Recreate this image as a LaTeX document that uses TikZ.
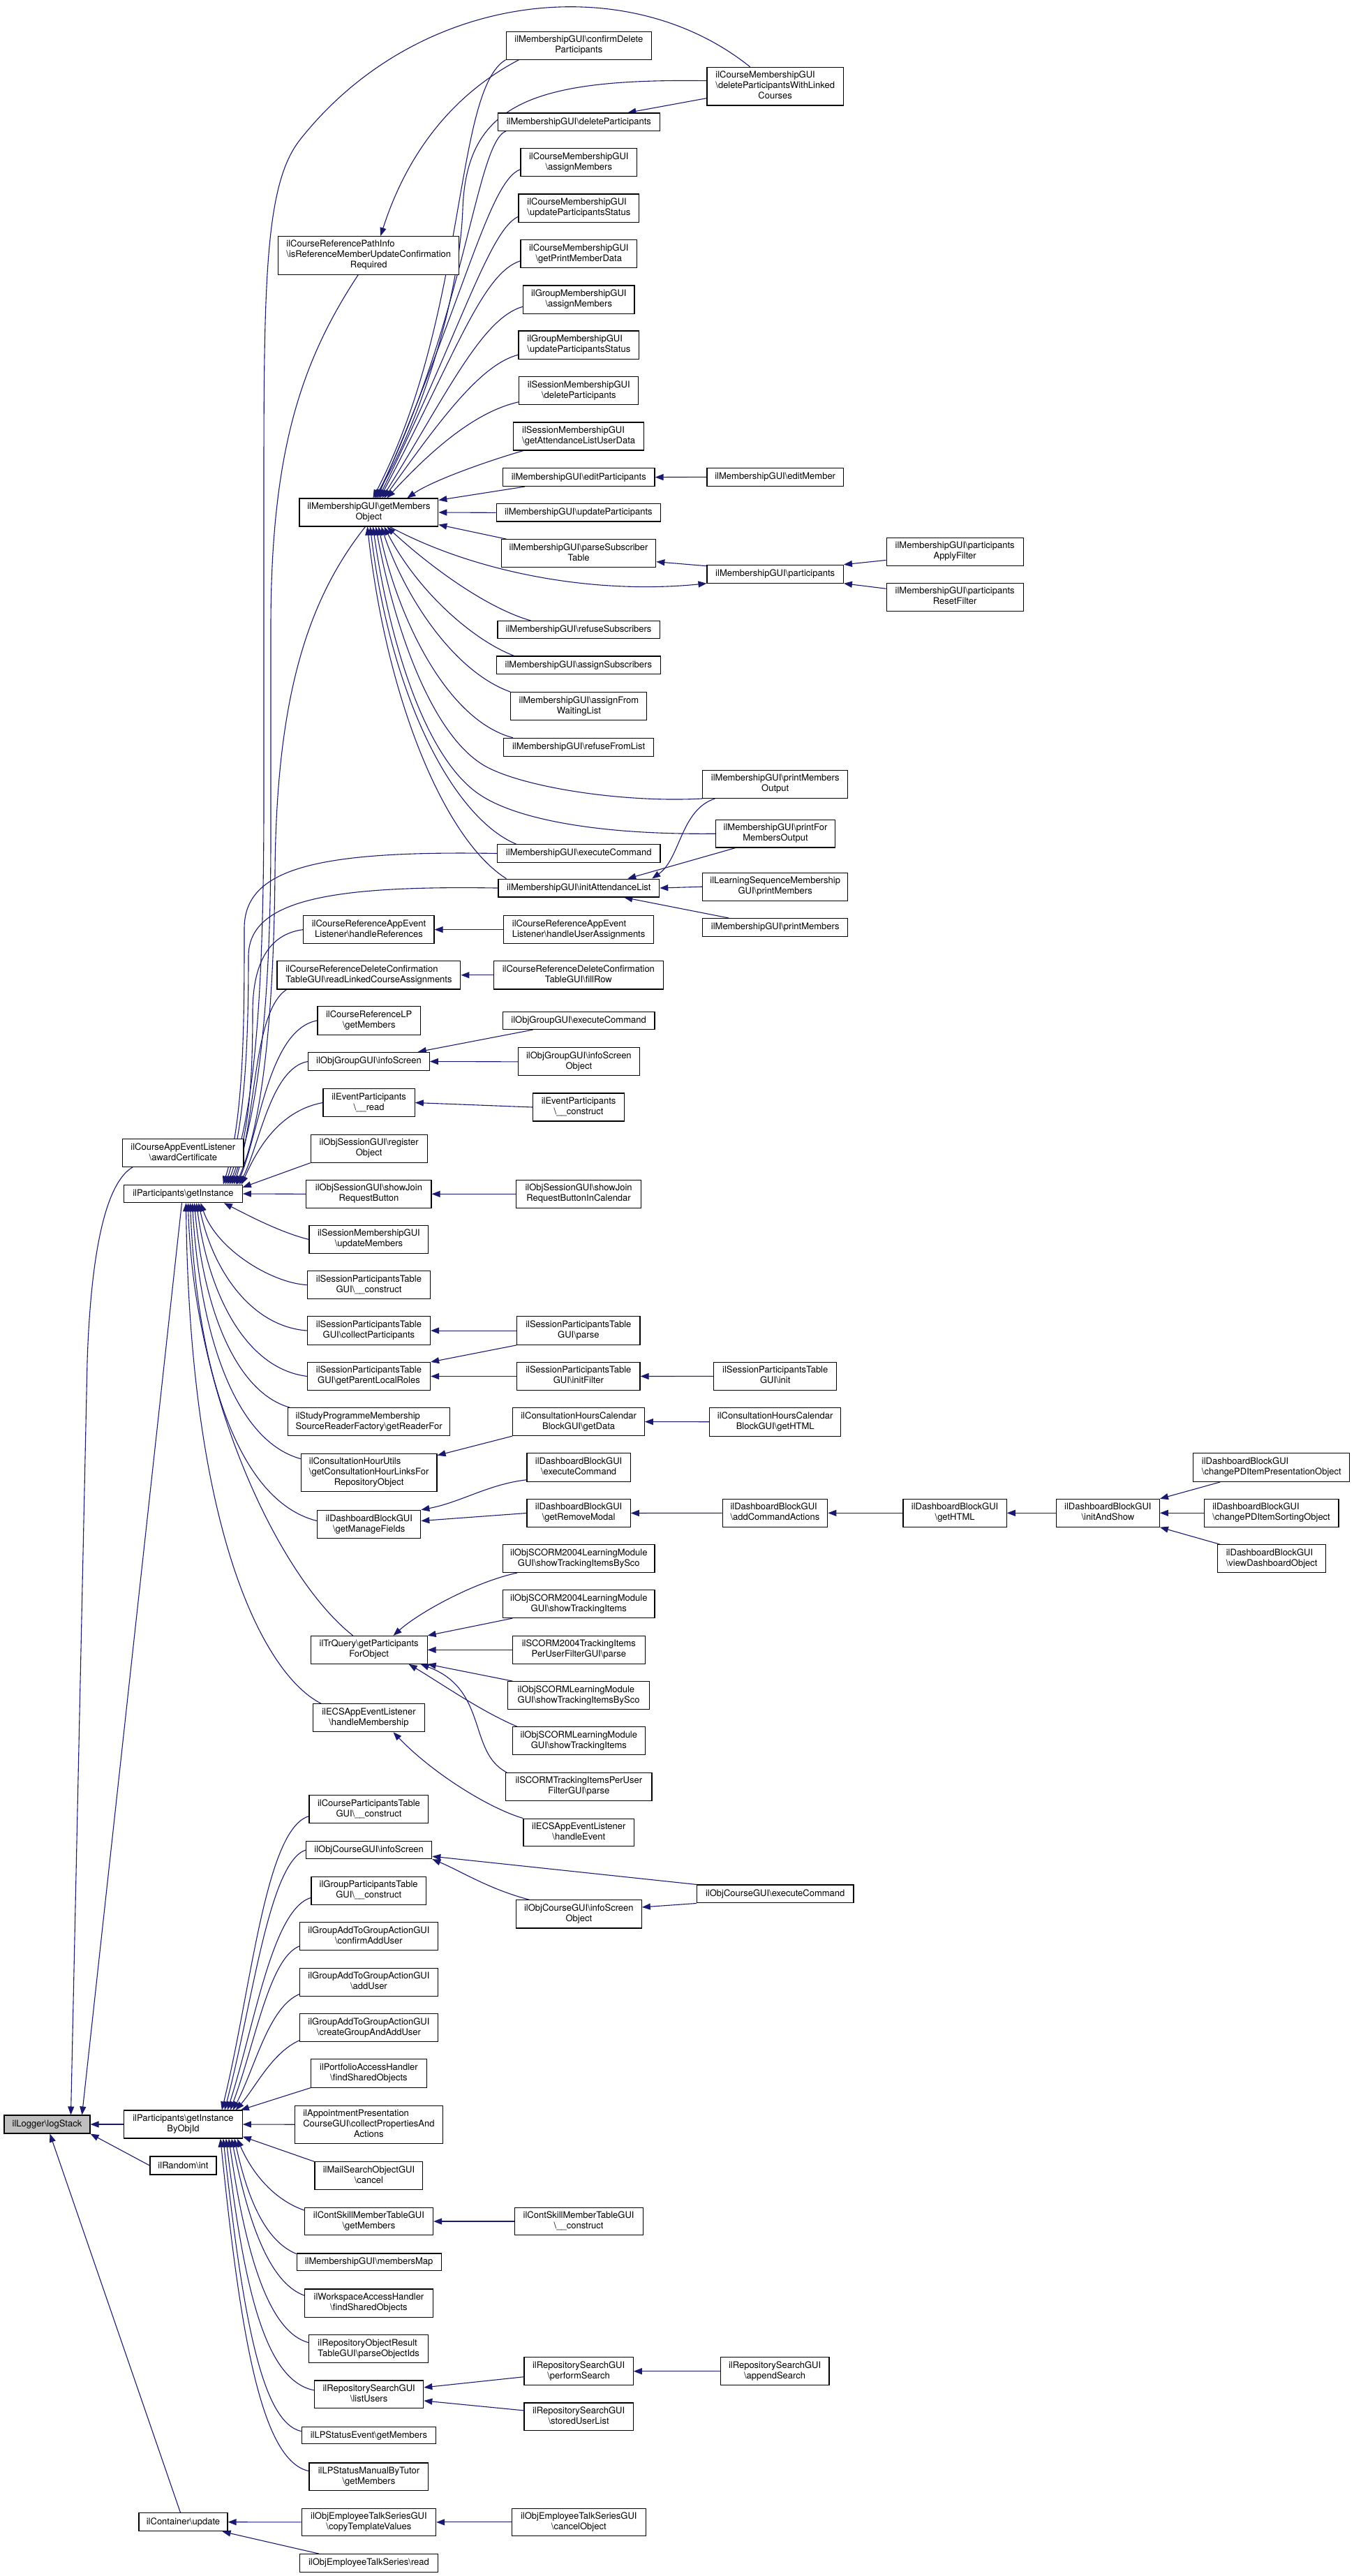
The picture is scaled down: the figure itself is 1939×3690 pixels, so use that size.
\documentclass[tikz,border=0pt]{standalone}
\usepackage{fontspec}
\setmainfont{TeX Gyre Heros}
\usetikzlibrary{arrows.meta}
\pgfdeclarelayer{background}
\pgfsetlayers{background,main}
\definecolor{edgec}{HTML}{191970}
\definecolor{rootc}{HTML}{BFBFBF}
\newcommand\bsl{\textbackslash}
\newcommand\twoL[2]{\begin{tabular}{@{}l@{}}#1\\\multicolumn{1}{@{}c@{}}{#2}\end{tabular}}
\newcommand\threeL[3]{\begin{tabular}{@{}l@{}}#1\\#2\\\multicolumn{1}{@{}c@{}}{#3}\end{tabular}}
\newcommand\bx[6][]{\node[nbox,#1,minimum width={#5-#3},minimum height={#6-#4}] (#2) at ({(#3+#5)/2},{(#4+#6)/2})}
\tikzset{
  nbox/.style={draw=black, line width=1.1pt, fill=white, inner sep=0pt, font=\fontsize{13}{15}\selectfont, text=black},
  edge/.style={draw=edgec, line width=1.1pt, -{Triangle[length=12pt,width=9pt]}}
}
\begin{document}
\begin{tikzpicture}[x=1pt,y=-1pt]
\useasboundingbox (0,0) rectangle (1939,3690);
% ---------- column 2
\bx[fill=rootc]{ls}{6}{3030}{129}{3056}{ilLogger\bsl logStack};
\bx{ace}{175.7}{1631.7}{349}{1671.3}{\twoL{ilCourseAppEventListener}{\bsl awardCertificate}};
\bx{gi}{177.7}{1697.3}{347.3}{1722.7}{ilParticipants\bsl getInstance};
\bx{gib}{177.7}{3023}{347.3}{3063}{\twoL{ilParticipants\bsl getInstance}{ByObjId}};
\bx{rnd}{215}{3089}{310}{3115}{ilRandom\bsl int};
\bx{cu}{199}{3599.7}{326}{3625.7}{ilContainer\bsl update};
% ---------- column 3
\bx{iref}{398.8}{338.6}{657.7}{393.1}{\threeL{ilCourseReferencePathInfo}{\bsl isReferenceMemberUpdateConfirmation}{Required}};
\bx{gmo}{429}{714}{627.8}{754}{\twoL{ilMembershipGUI\bsl getMembers}{Object}};
\bx{hr}{434.9}{1311.4}{622}{1351.8}{\twoL{ilCourseReferenceAppEvent}{Listener\bsl handleReferences}};
\bx{rlca}{397}{1376.5}{659.9}{1417}{\twoL{ilCourseReferenceDeleteConfirmation}{TableGUI\bsl readLinkedCourseAssignments}};
\bx{crlp}{455}{1441.6}{602.3}{1482.1}{\twoL{ilCourseReferenceLP}{\bsl getMembers}};
\bx{ogis}{441.6}{1507.3}{615.3}{1533.7}{ilObjGroupGUI\bsl infoScreen};
\bx{epr}{463}{1559.5}{594.3}{1599.5}{\twoL{ilEventParticipants}{\bsl\_\_read}};
\bx{sro}{445.2}{1625.3}{612.1}{1665.2}{\twoL{ilObjSessionGUI\bsl register}{Object}};
\bx{sjrb}{438.9}{1690.4}{618}{1730.3}{\twoL{ilObjSessionGUI\bsl showJoin}{RequestButton}};
\bx{smum}{443}{1755.5}{613.9}{1795.4}{\twoL{ilSessionMembershipGUI}{\bsl updateMembers}};
\bx{sptc}{440.3}{1820.6}{616.6}{1860.5}{\twoL{ilSessionParticipantsTable}{GUI\bsl\_\_construct}};
\bx{sptcp}{440.3}{1885.8}{616.6}{1926.3}{\twoL{ilSessionParticipantsTable}{GUI\bsl collectParticipants}};
\bx{sptplr}{440.3}{1951.5}{616.6}{1991.4}{\twoL{ilSessionParticipantsTable}{GUI\bsl getParentLocalRoles}};
\bx{sprf}{412.6}{2016.6}{644.7}{2056.5}{\twoL{ilStudyProgrammeMembership}{SourceReaderFactory\bsl getReaderFor}};
\bx{chu}{431.3}{2082.3}{626}{2136.9}{\threeL{ilConsultationHourUtils}{\bsl getConsultationHourLinksFor}{RepositoryObject}};
\bx{dbmf}{454.6}{2163.3}{602.8}{2203.8}{\twoL{ilDashboardBlockGUI}{\bsl getManageFields}};
\bx{trq}{445.2}{2343.4}{612.1}{2383.3}{\twoL{ilTrQuery\bsl getParticipants}{ForObject}};
\bx{ecshm}{448.8}{2440.8}{608.1}{2480.7}{\twoL{ilECSAppEventListener}{\bsl handleMembership}};
\bx{cpt}{443}{2571.7}{613.9}{2611.6}{\twoL{ilCourseParticipantsTable}{GUI\bsl\_\_construct}};
\bx{ocis}{438.5}{2637.4}{618.8}{2662.6}{ilObjCourseGUI\bsl infoScreen};
\bx{gpt}{446}{2688.4}{610.4}{2728.3}{\twoL{ilGroupParticipantsTable}{GUI\bsl\_\_construct}};
\bx{gaca}{429.6}{2753.6}{627.3}{2793.8}{\twoL{ilGroupAddToGroupActionGUI}{\bsl confirmAddUser}};
\bx{gaau}{429.6}{2819.3}{627.3}{2859.6}{\twoL{ilGroupAddToGroupActionGUI}{\bsl addUser}};
\bx{gacg}{429.6}{2884.6}{627.3}{2924.9}{\twoL{ilGroupAddToGroupActionGUI}{\bsl createGroupAndAddUser}};
\bx{pah}{445.6}{2949.8}{611.3}{2990.1}{\twoL{ilPortfolioAccessHandler}{\bsl findSharedObjects}};
\bx{apc}{422.4}{3016.2}{634.5}{3070.2}{\threeL{ilAppointmentPresentation}{CourseGUI\bsl collectPropertiesAnd}{Actions}};
\bx{mso}{451}{3096.9}{605.9}{3136.6}{\twoL{ilMailSearchObjectGUI}{\bsl cancel}};
\bx{csmg}{436.3}{3162.1}{620.6}{3201.9}{\twoL{ilContSkillMemberTableGUI}{\bsl getMembers}};
\bx{mgmm}{425.1}{3228}{632.2}{3252.9}{ilMembershipGUI\bsl membersMap};
\bx{wah}{436.7}{3279}{620.2}{3319.3}{\twoL{ilWorkspaceAccessHandler}{\bsl findSharedObjects}};
\bx{rort}{442.5}{3344.8}{613.9}{3384.5}{\twoL{ilRepositoryObjectResult}{TableGUI\bsl parseObjectIds}};
\bx{rslu}{450.5}{3410}{606.8}{3449.8}{\twoL{ilRepositorySearchGUI}{\bsl listUsers}};
\bx{lpse}{432.2}{3476.5}{624.6}{3500.8}{ilLPStatusEvent\bsl getMembers};
\bx{lpsm}{443}{3528}{613.9}{3567.2}{\twoL{ilLPStatusManualByTutor}{\bsl getMembers}};
\bx{etctv}{432.2}{3593.3}{624.6}{3632.5}{\twoL{ilObjEmployeeTalkSeriesGUI}{\bsl copyTemplateValues}};
\bx{etsr}{429.6}{3658.6}{627.3}{3684.1}{ilObjEmployeeTalkSeries\bsl read};
% ---------- column 4
\bx{cd}{725.1}{45.2}{933.6}{85.1}{\twoL{ilMembershipGUI\bsl confirmDelete}{Participants}};
\bx{dp}{713.5}{162}{945.2}{187.2}{ilMembershipGUI\bsl deleteParticipants};
\bx{cma}{746}{212.4}{912.6}{252.9}{\twoL{ilCourseMembershipGUI}{\bsl assignMembers}};
\bx{cmu}{743}{278}{915.7}{318.6}{\twoL{ilCourseMembershipGUI}{\bsl updateParticipantsStatus}};
\bx{cmp}{746}{343.8}{912.6}{383.7}{\twoL{ilCourseMembershipGUI}{\bsl getPrintMemberData}};
\bx{gma}{749.6}{409}{909}{449.5}{\twoL{ilGroupMembershipGUI}{\bsl assignMembers}};
\bx{gmu}{743}{474}{915.7}{514.6}{\twoL{ilGroupMembershipGUI}{\bsl updateParticipantsStatus}};
\bx{smd}{743.8}{539.8}{914.8}{579.7}{\twoL{ilSessionMembershipGUI}{\bsl deleteParticipants}};
\bx{sma}{735.4}{605}{922.9}{645}{\twoL{ilSessionMembershipGUI}{\bsl getAttendanceListUserData}};
\bx{ep}{720.6}{670.7}{938}{696.5}{ilMembershipGUI\bsl editParticipants};
\bx{up}{711.2}{721.7}{946.5}{747}{ilMembershipGUI\bsl updateParticipants};
\bx{pst}{718.4}{772.8}{939.8}{812.6}{\twoL{ilMembershipGUI\bsl parseSubscriber}{Table}};
\bx{rs}{713}{889.5}{945.2}{914.7}{ilMembershipGUI\bsl refuseSubscribers};
\bx{as}{711.2}{940}{946.5}{965.2}{ilMembershipGUI\bsl assignSubscribers};
\bx{afw}{731.8}{991.6}{926.9}{1031.5}{\twoL{ilMembershipGUI\bsl assignFrom}{WaitingList}};
\bx{rfl}{721.5}{1057.3}{936.7}{1083.1}{ilMembershipGUI\bsl refuseFromList};
\bx{ec}{712.6}{1209.9}{946}{1235.1}{ilMembershipGUI\bsl executeCommand};
\bx{ial}{714}{1259.1}{944.7}{1285}{ilMembershipGUI\bsl initAttendanceList};
\bx{hua}{721.5}{1311.4}{936.7}{1351.8}{\twoL{ilCourseReferenceAppEvent}{Listener\bsl handleUserAssignments}};
\bx{fr}{707.2}{1376.5}{950.5}{1417}{\twoL{ilCourseReferenceDeleteConfirmation}{TableGUI\bsl fillRow}};
\bx{ogec}{720.2}{1449.8}{938}{1474.5}{ilObjGroupGUI\bsl executeCommand};
\bx{ogiso}{742.5}{1500.9}{916.2}{1540.8}{\twoL{ilObjGroupGUI\bsl infoScreen}{Object}};
\bx{epc}{763.5}{1566}{894.7}{1606}{\twoL{ilEventParticipants}{\bsl\_\_construct}};
\bx{sjrbc}{739.4}{1690.4}{918.8}{1730.3}{\twoL{ilObjSessionGUI\bsl showJoin}{RequestButtonInCalendar}};
\bx{sptp}{740.7}{1885.8}{917}{1926.3}{\twoL{ilSessionParticipantsTable}{GUI\bsl parse}};
\bx{sptif}{740.7}{1951.5}{917}{1991.4}{\twoL{ilSessionParticipantsTable}{GUI\bsl initFilter}};
\bx{chd}{734.9}{2016.6}{923.3}{2056.5}{\twoL{ilConsultationHoursCalendar}{BlockGUI\bsl getData}};
\bx{dbec}{755}{2081.7}{903.2}{2122.2}{\twoL{ilDashboardBlockGUI}{\bsl executeCommand}};
\bx{dbrm}{755}{2147.5}{903.2}{2187.4}{\twoL{ilDashboardBlockGUI}{\bsl getRemoveModal}};
\bx{s4bs}{720.6}{2212.6}{938}{2252.5}{\twoL{ilObjSCORM2004LearningModule}{GUI\bsl showTrackingItemsBySco}};
\bx{s4ti}{720.6}{2277.7}{938}{2317.6}{\twoL{ilObjSCORM2004LearningModule}{GUI\bsl showTrackingItems}};
\bx{s4p}{734.5}{2343.4}{924.2}{2383.3}{\twoL{ilSCORM2004TrackingItems}{PerUserFilterGUI\bsl parse}};
\bx{slbs}{727.8}{2408.6}{930.4}{2448.5}{\twoL{ilObjSCORMLearningModule}{GUI\bsl showTrackingItemsBySco}};
\bx{slti}{734.5}{2473.7}{924.2}{2513.6}{\twoL{ilObjSCORMLearningModule}{GUI\bsl showTrackingItems}};
\bx{sp}{724.6}{2539.4}{934}{2579.3}{\twoL{ilSCORMTrackingItemsPerUser}{FilterGUI\bsl parse}};
\bx{ecshe}{750}{2605.1}{908.6}{2644.4}{\twoL{ilECSAppEventListener}{\bsl handleEvent}};
\bx{ocisobj}{739.4}{2721.9}{919.3}{2762}{\twoL{ilObjCourseGUI\bsl infoScreen}{Object}};
\bx{csmc}{737.1}{3162.1}{921.1}{3201.9}{\twoL{ilContSkillMemberTableGUI}{\bsl\_\_construct}};
\bx{rsps}{751}{3376.8}{907.2}{3416.6}{\twoL{ilRepositorySearchGUI}{\bsl performSearch}};
\bx{rssu}{751}{3442}{907.2}{3481.8}{\twoL{ilRepositorySearchGUI}{\bsl storedUserList}};
\bx{etco}{733.1}{3593.3}{925.5}{3632.5}{\twoL{ilObjEmployeeTalkSeriesGUI}{\bsl cancelObject}};
% ---------- column 5
\bx{dpwlc}{1013}{96.4}{1208.4}{151}{\threeL{ilCourseMembershipGUI}{\bsl deleteParticipantsWithLinked}{Courses}};
\bx{em}{1013}{670.4}{1208.4}{696.3}{ilMembershipGUI\bsl editMember};
\bx{pa}{1013}{809.3}{1208.4}{835.2}{ilMembershipGUI\bsl participants};
\bx{pmo}{1006.9}{1103.2}{1214.5}{1143.4}{\twoL{ilMembershipGUI\bsl printMembers}{Output}};
\bx{pfmo}{1025.3}{1174.4}{1196.7}{1214}{\twoL{ilMembershipGUI\bsl printFor}{MembersOutput}};
\bx{lsp}{1006.9}{1250.1}{1214.5}{1290.3}{\twoL{ilLearningSequenceMembership}{GUI\bsl printMembers}};
\bx{mpm}{1006.9}{1315.6}{1214.5}{1341.4}{ilMembershipGUI\bsl printMembers};
\bx{spti}{1022.9}{1951.5}{1198.6}{1991.3}{\twoL{ilSessionParticipantsTable}{GUI\bsl init}};
\bx{chh}{1016.7}{2016.3}{1204.7}{2057.1}{\twoL{ilConsultationHoursCalendar}{BlockGUI\bsl getHTML}};
\bx{dbac}{1035.1}{2147.4}{1185.7}{2187.2}{\twoL{ilDashboardBlockGUI}{\bsl addCommandActions}};
\bx{ocec}{998.4}{2700}{1223}{2725.9}{ilObjCourseGUI\bsl executeCommand};
\bx{rsas}{1032.2}{3376.8}{1188}{3416.6}{\twoL{ilRepositorySearchGUI}{\bsl appendSearch}};
% ---------- columns 6-8
\bx{paf}{1270.2}{770.3}{1466.1}{810.5}{\twoL{ilMembershipGUI\bsl participants}{ApplyFilter}};
\bx{prf}{1270.2}{835.2}{1466.1}{875.3}{\twoL{ilMembershipGUI\bsl participants}{ResetFilter}};
\bx{dbh}{1294}{2147.4}{1442.2}{2187.2}{\twoL{ilDashboardBlockGUI}{\bsl getHTML}};
\bx{dbis}{1513.3}{2147.4}{1661.4}{2187.2}{\twoL{ilDashboardBlockGUI}{\bsl initAndShow}};
\bx{dbpp}{1709.8}{2081.6}{1933.9}{2122.4}{\twoL{ilDashboardBlockGUI}{\bsl changePDItemPresentationObject}};
\bx{dbps}{1725.1}{2147.4}{1918}{2187.2}{\twoL{ilDashboardBlockGUI}{\bsl changePDItemSortingObject}};
\bx{dbvd}{1744.7}{2212.8}{1899.6}{2252.6}{\twoL{ilDashboardBlockGUI}{\bsl viewDashboardObject}};

\begin{pgfonlayer}{background}
% ---- to logStack
\draw[edge] ([xshift=15]ace.south west) .. controls (150,1695) and (130,1800) .. (125,1950) -- ([xshift=34]ls.north);
\draw[edge] ([xshift=-2]gi.south) -- ([xshift=50]ls.north);
\draw[edge] (gib.west) -- (ls.east);
\draw[edge] (rnd.west) -- (ls.south east);
\draw[edge] ([xshift=-4]cu.north) -- ([xshift=4]ls.south);
% ---- to getInstance (from above)
\draw[edge] ([xshift=-36]dpwlc.north) .. controls (900,-45) and (600,-15) .. (430,200) .. controls (380,263) and (378,400) .. (378,700) -- (378,1150) .. controls (378,1450) and (362,1600) .. ([xshift=-22]gi.north east);
\draw[edge] ([xshift=-15]iref.south) .. controls (430,520) and (388,650) .. (388,900) -- (388,1200) .. controls (388,1450) and (368,1600) .. ([xshift=-16]gi.north east);
\draw[edge] ([xshift=-5]gmo.south) .. controls (440,860) and (396,1000) .. (394,1250) .. controls (392,1480) and (372,1620) .. ([xshift=-10]gi.north east);
\draw[edge] (ec.west) .. controls (450,1218) and (350,1245) .. (350,1330) .. controls (350,1460) and (350,1600) .. ([xshift=-28]gi.north east);
\draw[edge] (ial.west) .. controls (470,1268) and (356,1290) .. (356,1370) .. controls (356,1480) and (352,1610) .. ([xshift=-25]gi.north east);
\draw[edge] (hr.west) .. controls (385,1338) and (362,1380) .. (362,1450) .. controls (362,1560) and (355,1630) .. ([xshift=-19]gi.north east);
\draw[edge] ([xshift=14]rlca.south west) .. controls (362,1450) and (368,1600) .. ([xshift=-13]gi.north east);
\draw[edge] (crlp.west) .. controls (385,1475) and (372,1620) .. ([xshift=-8]gi.north east);
\draw[edge] (ogis.west) .. controls (388,1530) and (372,1640) .. ([xshift=-5]gi.north east);
\draw[edge] (epr.west) .. controls (395,1592) and (365,1655) .. ([xshift=-2]gi.north east);
\draw[edge] (sro.south west) -- ([yshift=-4]gi.north east);
\draw[edge] (sjrb.west) -- (gi.east);
\draw[edge] (smum.west) .. controls (400,1765) and (350,1738) .. ([xshift=-27]gi.south east);
% ---- to getInstance (from below)
\draw[edge] (sptc.west) .. controls (390,1838) and (310,1790) .. ([xshift=25]gi.south);
\draw[edge] (sptcp.west) .. controls (360,1900) and (305,1820) .. ([xshift=22]gi.south);
\draw[edge] (sptplr.west) .. controls (350,1960) and (298,1850) .. ([xshift=19]gi.south);
\draw[edge] ([xshift=3]sprf.north west) .. controls (340,1995) and (292,1880) .. ([xshift=16]gi.south);
\draw[edge] ([yshift=20]chu.west) .. controls (340,2065) and (287,1920) .. ([xshift=13]gi.south);
\draw[edge] ([yshift=5]dbmf.west) .. controls (340,2150) and (282,1960) .. ([xshift=10]gi.south);
\draw[edge] ([xshift=-23]trq.north) .. controls (400,2260) and (277,2000) .. ([xshift=7]gi.south);
\draw[edge] ([xshift=12]ecshm.north west) .. controls (380,2400) and (272,2200) .. ([xshift=4]gi.south);
% ---- to getMembersObject
\draw[edge] ([xshift=19]cd.south west) .. controls (640,140) and (580,230) .. ([xshift=17]iref.north);
\draw[edge] (cd.south west) .. controls (650,130) and (670,450) .. ([xshift=6]gmo.north);
\draw[edge] ([yshift=8]dpwlc.west) .. controls (760,112) and (668,150) .. (663,300) .. controls (658,430) and (600,610) .. ([xshift=8]gmo.north);
\draw[edge] ([xshift=12]dp.south west) .. controls (682,205) and (668,450) .. ([xshift=10]gmo.north);
\draw[edge] ([yshift=-10]cma.west) .. controls (700,260) and (665,430) .. ([xshift=12]gmo.north);
\draw[edge] ([yshift=-12]cmu.west) .. controls (700,330) and (658,480) .. ([xshift=14]gmo.north);
\draw[edge] ([yshift=-10]cmp.west) .. controls (690,392) and (652,510) .. ([xshift=16]gmo.north);
\draw[edge] ([yshift=-10]gma.west) .. controls (690,456) and (640,565) .. ([xshift=19]gmo.north);
\draw[edge] ([yshift=-14]gmu.west) .. controls (688,522) and (628,605) .. ([xshift=22]gmo.north);
\draw[edge] ([yshift=-16]smd.west) .. controls (680,590) and (618,645) .. ([xshift=26]gmo.north);
\draw[edge] ([xshift=15]sma.south west) .. controls (700,660) and (620,688) .. ([xshift=55]gmo.north);
\draw[edge] ([xshift=32]ep.south west) -- ([yshift=-3]gmo.north east);
\draw[edge] (up.west) -- (gmo.east);
\draw[edge] ([xshift=8]pst.north west) -- ([yshift=3]gmo.south east);
\draw[edge] ([xshift=48]rs.north west) .. controls (700,872) and (620,815) .. ([xshift=26]gmo.south);
\draw[edge] ([xshift=26]as.north west) .. controls (680,918) and (600,850) .. ([xshift=22]gmo.south);
\draw[edge] (afw.north west) .. controls (650,962) and (580,855) .. ([xshift=18]gmo.south);
\draw[edge] ([xshift=14]rfl.north west) .. controls (640,1032) and (570,885) .. ([xshift=14]gmo.south);
\draw[edge] (pmo.south west) .. controls (900,1150) and (760,1130) .. (700,1100) .. controls (620,1060) and (565,900) .. ([xshift=10]gmo.south);
\draw[edge] (pfmo.west) .. controls (850,1196) and (740,1172) .. (690,1140) .. controls (610,1090) and (558,920) .. ([xshift=6]gmo.south);
\draw[edge] ([xshift=28]ec.north west) .. controls (650,1172) and (560,1000) .. ([xshift=2]gmo.south);
\draw[edge] ([xshift=12]ial.north west) .. controls (640,1205) and (555,1010) .. ([xshift=-2]gmo.south);
\draw[edge] ([xshift=30]gmo.south) .. controls (680,820) and (850,852) .. (pa.south west);
% ---- membership others
\draw[edge] ([yshift=-17]dpwlc.west) -- ([xshift=70]dp.north);
\draw[edge] (em.west) -- (ep.east);
\draw[edge] ([yshift=-12]paf.west) -- (pa.north east);
\draw[edge] ([yshift=12]prf.west) -- (pa.south east);
\draw[edge] ([yshift=-2]pa.north west) -- ([yshift=-12]pst.east);
\draw[edge] ([xshift=18]pmo.south west) .. controls (975,1160) and (975,1230) .. ([xshift=-11]ial.north east);
\draw[edge] ([xshift=29]pfmo.south west) -- ([xshift=-46]ial.north east);
\draw[edge] (lsp.west) -- (ial.east);
\draw[edge] ([xshift=38]mpm.north west) -- ([xshift=-51]ial.south east);
% ---- middle block
\draw[edge] (hua.west) -- (hr.east);
\draw[edge] (fr.west) -- (rlca.east);
\draw[edge] ([xshift=44]ogec.south west) -- ([xshift=-17]ogis.north east);
\draw[edge] (ogiso.west) -- (ogis.east);
\draw[edge] (epc.west) -- (epr.east);
\draw[edge] (sjrbc.west) -- (sjrb.east);
\draw[edge] (sptp.west) -- (sptcp.east);
\draw[edge] (sptp.south west) -- (sptplr.north east);
\draw[edge] (sptif.west) -- (sptplr.east);
\draw[edge] (spti.west) -- (sptif.east);
\draw[edge] (chh.west) -- (chd.east);
\draw[edge] (chd.south west) -- ([yshift=-3]chu.north east);
\draw[edge] ([yshift=3]dbec.south west) .. controls (700,2126) and (660,2152) .. (dbmf.north east);
\draw[edge] (dbrm.west) -- ([yshift=5]dbmf.east);
\draw[edge] (dbac.west) -- (dbrm.east);
\draw[edge] (dbh.west) -- (dbac.east);
\draw[edge] (dbis.west) -- (dbh.east);
\draw[edge] ([xshift=39]dbpp.south west) -- (dbis.north east);
\draw[edge] (dbps.west) -- (dbis.east);
\draw[edge] ([xshift=4]dbvd.north west) -- (dbis.south east);
% ---- SCORM
\draw[edge] ([xshift=21]s4bs.south west) .. controls (680,2266) and (600,2310) .. ([xshift=35]trq.north);
\draw[edge] ([xshift=14]s4ti.south west) -- (trq.north east);
\draw[edge] (s4p.west) -- (trq.east);
\draw[edge] ([xshift=7]slbs.north west) -- (trq.south east);
\draw[edge] ([xshift=7]slti.north west) .. controls (690,2452) and (630,2410) .. ([xshift=57]trq.south);
\draw[edge] ([xshift=2]sp.north west) .. controls (670,2510) and (700,2420) .. ([xshift=74]trq.south);
\draw[edge] (ecshe.north west) .. controls (700,2590) and (620,2540) .. ([xshift=35]ecshm.south);
% ---- course
\draw[edge] (ocec.north west) -- ([yshift=4]ocis.south east);
\draw[edge] ([xshift=20]ocisobj.north west) .. controls (700,2706) and (660,2680) .. (ocis.south east);
\draw[edge] (ocec.south west) -- ([yshift=10]ocisobj.east);
\draw[edge] (csmc.west) -- (csmg.east);
\draw[edge] ([yshift=-8]rsps.west) -- ([yshift=10]rslu.east);
\draw[edge] ([yshift=9]rssu.west) -- ([yshift=-9]rslu.east);
\draw[edge] (rsas.west) -- (rsps.east);
\draw[edge] (etco.west) -- (etctv.east);
% ---- to getInstanceByObjId
\draw[edge] ([yshift=-10]cpt.west) .. controls (380,2620) and (360,2850) .. ([xshift=-30]gib.north east);
\draw[edge] (ocis.west) .. controls (385,2668) and (362,2870) .. ([xshift=-26]gib.north east);
\draw[edge] ([yshift=-10]gpt.west) .. controls (390,2735) and (365,2900) .. ([xshift=-22]gib.north east);
\draw[edge] ([yshift=-14]gaca.west) .. controls (385,2805) and (365,2930) .. ([xshift=-18]gib.north east);
\draw[edge] ([yshift=-17]gaau.west) .. controls (385,2875) and (366,2960) .. ([xshift=-14]gib.north east);
\draw[edge] ([yshift=-18]gacg.west) .. controls (390,2940) and (366,2990) .. ([xshift=-10]gib.north east);
\draw[edge] (pah.south west) -- ([xshift=-3]gib.north east);
\draw[edge] (apc.west) -- (gib.east);
\draw[edge] (mso.north west) -- ([yshift=3]gib.south east);
\draw[edge] ([yshift=16]csmg.west) .. controls (390,3150) and (360,3110) .. ([xshift=-8]gib.south east);
\draw[edge] ([yshift=12]mgmm.west) .. controls (380,3210) and (355,3150) .. ([xshift=-12]gib.south east);
\draw[edge] ([yshift=11]wah.west) .. controls (385,3270) and (355,3180) .. ([xshift=-16]gib.south east);
\draw[edge] ([yshift=9]rort.west) .. controls (385,3340) and (352,3230) .. ([xshift=-20]gib.south east);
\draw[edge] ([yshift=6]rslu.west) .. controls (380,3410) and (350,3280) .. ([xshift=-24]gib.south east);
\draw[edge] ([yshift=6]lpse.west) .. controls (375,3470) and (348,3320) .. ([xshift=-28]gib.south east);
\draw[edge] ([yshift=8]lpsm.west) .. controls (375,3525) and (345,3350) .. ([xshift=-32]gib.south east);
% ---- to Container update
\draw[edge] (etctv.west) -- (cu.east);
\draw[edge] ([xshift=28]etsr.north west) -- ([xshift=-8]cu.south east);
\end{pgfonlayer}
\end{tikzpicture}
\end{document}
